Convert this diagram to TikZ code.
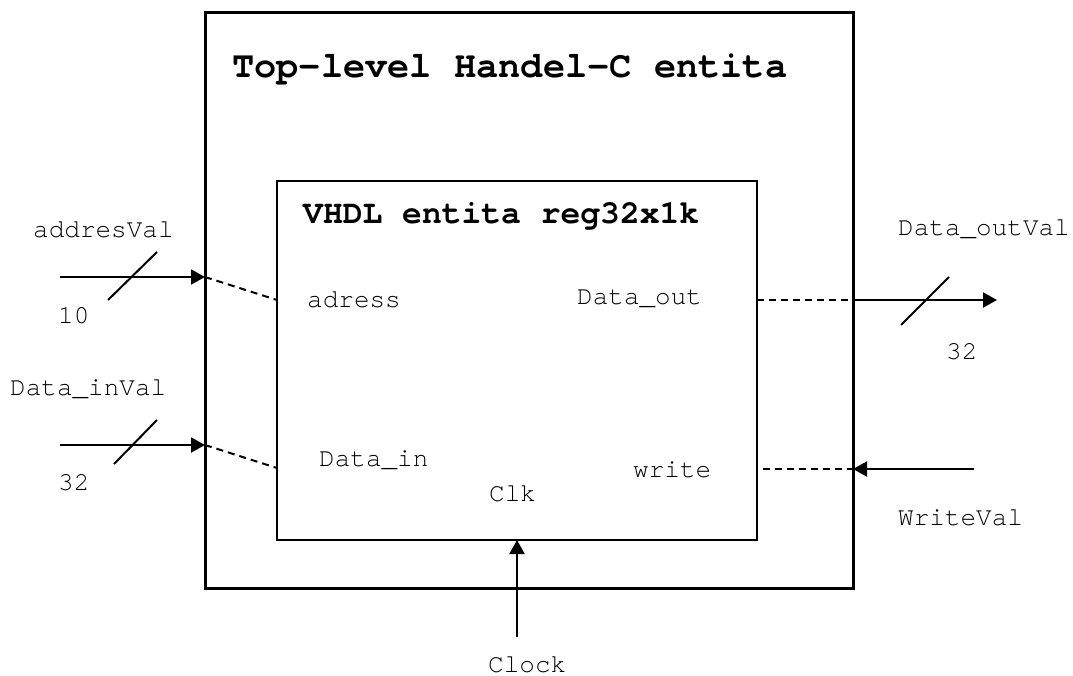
\documentclass[tikz,border=0pt]{standalone}
\usepackage{fontspec}
\setmonofont{texgyrecursor}[Extension=.otf,UprightFont=*-regular,BoldFont=*-bold]
\usetikzlibrary{arrows.meta}
\begin{document}
\begin{tikzpicture}[x=1pt,y=-1pt,
  lbl/.style={anchor=base west,inner sep=0pt,font=\fontsize{26}{30}\selectfont\ttfamily},
  ttl/.style={anchor=base west,inner sep=0pt,font=\fontsize{37}{44}\selectfont\ttfamily\bfseries},
  sttl/.style={anchor=base west,inner sep=0pt,font=\fontsize{33}{40}\selectfont\ttfamily\bfseries},
  sig/.style={line width=2pt,-{Triangle[length=14pt,width=15pt]}},
  bus/.style={line width=2pt},
  conn/.style={line width=2pt,dash pattern=on 7pt off 5pt}]
\useasboundingbox (0,0) rectangle (1073,675);
% boxes
\node[draw,line width=3pt,minimum width=648pt,minimum height=576pt,inner sep=0pt] (outer) at (529,300) {};
\node[draw,line width=2pt,minimum width=480pt,minimum height=359pt,inner sep=0pt] (inner) at (517,360.5) {};
% titles
\node[ttl] (t1) at (232,77) {Top-level Handel-C entita};
\node[sttl] (t2) at (303,223) {VHDL entita reg32x1k};
% inner port labels
\node[lbl] (padr) at (307,307) {adress};
\node[lbl] (pdin) at (319,466) {Data\_in};
\node[lbl] (pdout) at (577,304) {Data\_out};
\node[lbl] (pwr) at (633,477) {write};
\node[lbl] (pclk) at (489,501) {Clk};
% outer labels
\node[lbl] (ladr) at (33,237) {addresVal};
\node[lbl] (n10) at (58,323) {10};
\node[lbl] (ldin) at (10,395) {Data\_inVal};
\node[lbl] (n32a) at (58,490) {32};
\node[lbl] (ldout) at (898,235) {Data\_outVal};
\node[lbl] (n32b) at (946,359) {32};
\node[lbl] (lwr) at (898,525) {WriteVal};
\node[lbl] (lclk) at (488,672) {Clock};
% coordinates
\coordinate (a0) at (60,277);
\coordinate (a1) at (205,277);
\coordinate (a2) at (277,300);
\coordinate (d0) at (60,445);
\coordinate (d1) at (205,445);
\coordinate (d2) at (277,468);
\coordinate (o0) at (757,300);
\coordinate (o1) at (853,300);
\coordinate (o2) at (997,300);
\coordinate (w0) at (763,469);
\coordinate (w1) at (853,469);
\coordinate (w2) at (974,469);
\coordinate (c0) at (517,637);
\coordinate (c1) at (517,540);
\coordinate (s1a) at (108,300); \coordinate (s1b) at (157,252);
\coordinate (s2a) at (114,464); \coordinate (s2b) at (157,420);
\coordinate (s3a) at (901,325); \coordinate (s3b) at (949,277);
% signals
\draw[sig] (a0) -- (a1);
\draw[conn] (a1) -- (a2);
\draw[bus] (s1a) -- (s1b);
\draw[sig] (d0) -- (d1);
\draw[conn] (d1) -- (d2);
\draw[bus] (s2a) -- (s2b);
\draw[conn] (o0) -- (o1);
\draw[sig] (o1) -- (o2);
\draw[bus] (s3a) -- (s3b);
\draw[conn] (w0) -- (w1);
\draw[sig] (w2) -- (w1);
\draw[sig] (c0) -- (c1);
\end{tikzpicture}
\end{document}
